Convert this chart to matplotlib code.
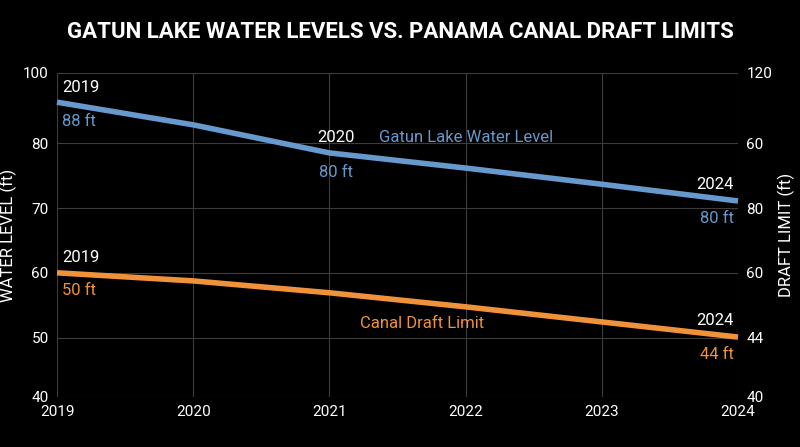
import matplotlib
matplotlib.use("Agg")
import matplotlib.pyplot as plt

years = [2019, 2020, 2021, 2022, 2023, 2024]
lake_level = [94.6, 90.4, 85.2, 82.4, 79.4, 76.3]
draft_limit = [63.0, 61.5, 59.3, 56.7, 53.9, 51.1]
left_tick_pos = [40, 51, 63, 75, 87, 100]
left_tick_labels = ["40", "50", "60", "70", "80", "100"]
right_tick_labels = ["40", "44", "60", "80", "60", "120"]

plt.rcParams['font.family'] = ['Roboto', 'DejaVu Sans']
BLUE = "#6699cc"
ORANGE = "#f0923a"

fig = plt.figure(figsize=(8, 4.47), dpi=100, facecolor="black")
ax = fig.add_axes([57/800, 1-397/447, (738-57)/800, (397-73)/447], facecolor="black")
ax.set_xlim(2019, 2024)
ax.set_ylim(40, 100)
for s in ax.spines.values():
    s.set_visible(False)
ax.set_xticks(years)
ax.set_yticks(left_tick_pos)
ax.set_yticklabels(left_tick_labels)
ax.tick_params(colors="white", labelsize=11, length=0, pad=6)
ax.grid(True, color="#3c3c3c", lw=0.8)
ax.set_ylabel("WATER LEVEL (ft)", color="white", fontsize=12)

ax2 = ax.twinx()
ax2.set_ylim(40, 100)
ax2.set_yticks(left_tick_pos)
ax2.set_yticklabels(right_tick_labels)
for s in ax2.spines.values():
    s.set_visible(False)
ax2.tick_params(colors="white", labelsize=11, length=0, pad=6)
ax2.set_ylabel("DRAFT LIMIT (ft)", color="white", fontsize=12)

ax.plot(years, lake_level, color=BLUE, lw=4, solid_capstyle="butt", clip_on=False)
ax.plot(years, draft_limit, color=ORANGE, lw=4, solid_capstyle="butt", clip_on=False)

def lab(x, y, t, c, ha="left"):
    ax.text(x, y, t, color=c, fontsize=12, ha=ha, va="center")

lab(2019.04, lake_level[0] + 2.8, "2019", "white")
lab(2019.04, lake_level[0] - 3.6, "88 ft", BLUE)
lab(2021.05, lake_level[2] + 2.8, "2020", "white", "center")
lab(2021.05, lake_level[2] - 3.6, "80 ft", BLUE, "center")
lab(2022.0, lake_level[2] + 2.8, "Gatun Lake Water Level", BLUE, "center")
lab(2023.97, lake_level[5] + 3.0, "2024", "white", "right")
lab(2023.97, lake_level[5] - 3.3, "80 ft", BLUE, "right")
lab(2019.04, draft_limit[0] + 2.8, "2019", "white")
lab(2019.04, draft_limit[0] - 3.3, "50 ft", ORANGE)
lab(2021.68, 53.7, "Canal Draft Limit", ORANGE, "center")
lab(2023.97, draft_limit[5] + 3.0, "2024", "white", "right")
lab(2023.97, draft_limit[5] - 3.3, "44 ft", ORANGE, "right")

fig.text(0.5, 1-32/447, "GATUN LAKE WATER LEVELS VS. PANAMA CANAL DRAFT LIMITS",
         color="white", fontsize=16, fontweight="bold", ha="center", va="center",
         fontstretch="condensed")
fig.savefig("out.png", dpi=100, facecolor="black")
